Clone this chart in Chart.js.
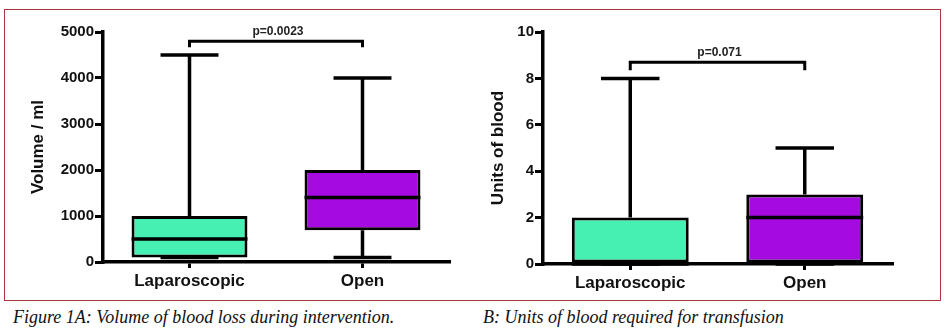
<!DOCTYPE html>
<html lang="en">
<head>
  <meta charset="UTF-8" />
  <title>Blood loss - box plots</title>
  <style>
    body { margin: 0; background: #fff; }
    .page { position: relative; width: 946px; height: 333px; overflow: hidden; }
    .frame { position: absolute; left: 4px; top: 9px; width: 935px; height: 290px; border: 1px solid #a8383c; }
    canvas { position: absolute; top: 20px; }
    #volChart { left: 10px; }
    #unitsChart { left: 480px; }
    .caption { position: absolute; top: 307px; font-family: "Liberation Serif", serif; font-style: italic; font-size: 18px; color: #111; white-space: nowrap; }
  </style>
</head>
<body>
  <div class="page">
    <div class="frame"></div>
    <canvas id="volChart" width="450" height="275"></canvas>
    <canvas id="unitsChart" width="450" height="275"></canvas>
    <div class="caption" style="left:13px">Figure 1A: Volume of blood loss during intervention.</div>
    <div class="caption" style="left:483px">B: Units of blood required for transfusion</div>
  </div>

  <script src="https://cdn.jsdelivr.net/npm/chart.js"></script>
  <script>
    const categories = ['Laparoscopic', 'Open'];
    const boxColors = ['#45f0b2', '#a50ae0'];

    // Figura A: volumen (ml)
    const volMin = [100, 100];
    const volQ1 = [100, 690];
    const volMedian = [500, 1400];
    const volQ3 = [1000, 2000];
    const volMax = [4500, 4000];
    const volTicks = [0, 5000, 1000];
    const volP = 'p=0.0023';
    const volBracket = 4800;

    // Figura B: unidades de sangre
    const unitsMin = [0, 0];
    const unitsQ1 = [0, 0];
    const unitsMedian = [0, 2];
    const unitsQ3 = [2, 3];
    const unitsMax = [8, 5];
    const unitsTicks = [0, 10, 2];
    const unitsP = 'p=0.071';
    const unitsBracket = 8.7;

    const boxPlugin = {
      id: 'boxParts',
      beforeDatasetsDraw(chart) {
        const s = chart.config.options.plugins.boxParts;
        const { ctx, scales: { y } } = chart;
        const bars = chart.getDatasetMeta(0).data;
        ctx.save();
        ctx.strokeStyle = '#000';
        ctx.lineWidth = 3.5;
        bars.forEach((bar, i) => {
          const x = bar.x;
          const half = bar.width / 4;
          const yMax = y.getPixelForValue(s.max[i]);
          const yMin = y.getPixelForValue(s.min[i]);
          ctx.beginPath();
          ctx.moveTo(x, yMax);
          ctx.lineTo(x, y.getPixelForValue(s.q3[i]));
          ctx.moveTo(x, yMin);
          ctx.lineTo(x, y.getPixelForValue(s.q1[i]));
          ctx.moveTo(x - half, yMax);
          ctx.lineTo(x + half, yMax);
          ctx.moveTo(x - half, yMin);
          ctx.lineTo(x + half, yMin);
          ctx.stroke();
        });
        ctx.restore();
      },
      afterDatasetsDraw(chart) {
        const s = chart.config.options.plugins.boxParts;
        const { ctx, scales: { y } } = chart;
        const bars = chart.getDatasetMeta(0).data;
        ctx.save();
        ctx.strokeStyle = '#000';
        ctx.lineWidth = 3.5;
        bars.forEach((bar, i) => {
          const ym = y.getPixelForValue(s.median[i]);
          ctx.beginPath();
          ctx.moveTo(bar.x - bar.width / 2, ym);
          ctx.lineTo(bar.x + bar.width / 2, ym);
          ctx.stroke();
        });
        // corchete de significancia
        const yb = y.getPixelForValue(s.bracket);
        const x1 = bars[0].x, x2 = bars[1].x;
        ctx.lineWidth = 3;
        ctx.beginPath();
        ctx.moveTo(x1, yb + s.drop);
        ctx.lineTo(x1, yb);
        ctx.lineTo(x2, yb);
        ctx.lineTo(x2, yb + s.drop);
        ctx.stroke();
        ctx.fillStyle = '#222';
        ctx.font = 'bold 12px "Liberation Sans", Arial, sans-serif';
        ctx.textAlign = 'center';
        ctx.textBaseline = 'alphabetic';
        ctx.fillText(s.label, (x1 + x2) / 2 + 2, yb - 6);
        ctx.restore();
      }
    };

    function makeChart(id, title, q1, q3, parts, ticks, pad, yWidth, xHeight) {
      return new Chart(document.getElementById(id), {
        type: 'bar',
        data: {
          labels: categories,
          datasets: [{
            data: categories.map((c, i) => [q1[i], q3[i]]),
            backgroundColor: boxColors,
            borderColor: '#000',
            borderWidth: 3,
            borderSkipped: false,
            categoryPercentage: 1,
            barPercentage: 0.67
          }]
        },
        options: {
          responsive: false,
          animation: false,
          layout: { padding: pad },
          plugins: {
            legend: { display: false },
            tooltip: { enabled: false },
            boxParts: parts
          },
          scales: {
            x: {
              grid: { offset: false, drawOnChartArea: false, color: '#000', lineWidth: 3, tickLength: 6 },
              border: { color: '#000', width: 3.5 },
              ticks: { color: '#111', padding: 3, font: { family: '"Liberation Sans", Arial, sans-serif', size: 17, weight: 'bold' } },
              afterFit(scale) { scale.height = xHeight; }
            },
            y: {
              min: ticks[0],
              max: ticks[1],
              grid: { drawOnChartArea: false, color: '#000', lineWidth: 3, tickLength: 8 },
              border: { color: '#000', width: 3.5 },
              ticks: {
                stepSize: ticks[2], color: '#111', padding: 1,
                font: { family: '"Liberation Sans", Arial, sans-serif', size: 15, weight: 'bold' },
                callback: (v) => String(v)
              },
              title: { display: true, text: title, color: '#111', padding: 0, font: { family: '"Liberation Sans", Arial, sans-serif', size: 17, weight: 'bold' } },
              afterFit(scale) { scale.width = yWidth; }
            }
          }
        },
        plugins: [boxPlugin]
      });
    }

    makeChart('volChart', 'Volume / ml', volQ1, volQ3,
      { min: volMin, q1: volQ1, median: volMedian, q3: volQ3, max: volMax, bracket: volBracket, drop: 6, label: volP },
      volTicks, { left: 18, right: 11, top: 12, bottom: 0 }, 75, 33);

    makeChart('unitsChart', 'Units of blood', unitsQ1, unitsQ3,
      { min: unitsMin, q1: unitsQ1, median: unitsMedian, q3: unitsQ3, max: unitsMax, bracket: unitsBracket, drop: 8, label: unitsP },
      unitsTicks, { left: 8, right: 38, top: 12, bottom: 0 }, 55, 31);
  </script>
</body>
</html>
